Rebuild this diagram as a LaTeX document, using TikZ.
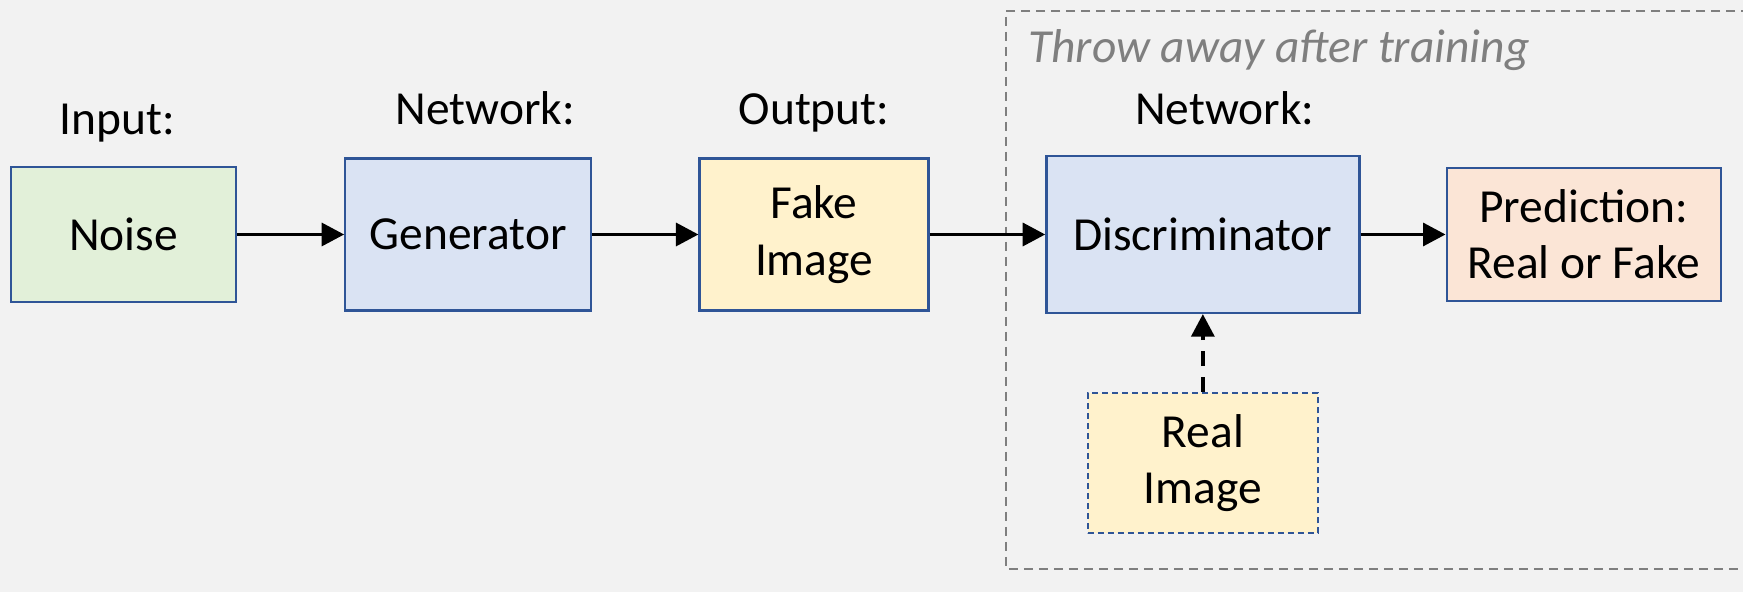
\documentclass[tikz,border=0pt]{standalone}
\usepackage{fontspec}
\setmainfont{Carlito}
\usepackage{tikz}
\usetikzlibrary{positioning,arrows.meta}

\definecolor{bggray}{HTML}{F2F2F2}
\definecolor{edgeblue}{HTML}{2F5597}
\definecolor{noisegreen}{HTML}{E2F0D9}
\definecolor{netblue}{HTML}{DAE3F3}
\definecolor{imgyellow}{HTML}{FFF2CC}
\definecolor{predorange}{HTML}{FBE5D6}
\definecolor{framegray}{HTML}{7F7F7F}

\begin{document}
\begin{tikzpicture}[
  font=\fontsize{27}{32}\selectfont, >={Triangle[length=0.45cm,width=0.46cm]},
  box/.style={draw=edgeblue, line width=1.3pt, align=center, inner sep=0pt},
  lbl/.style={inner sep=0pt, anchor=base},
  arr/.style={->, line width=1.9pt},
  frame/.style={draw=framegray, line width=1.2pt, dash pattern=on 0.18cm off 0.12cm},
]
\fill[bggray] (0,0) rectangle (34.86,11.84);
\useasboundingbox (0,0) rectangle (34.86,11.84);

% part that is dropped after training
\draw[frame] (35.0,11.62) -- (20.12,11.62) -- (20.12,0.46) -- (35.0,0.46);
\node[lbl, anchor=base west, text=framegray, font=\fontsize{27}{32}\selectfont\itshape]
  (throw) at (20.56,10.58) {Throw away after training};

% generator side
\node[box, fill=noisegreen, minimum width=4.5cm, minimum height=2.7cm] (noise) at (2.47,7.15) {Noise};
\node[box, fill=netblue, minimum width=4.92cm, minimum height=3.04cm, right=2.14cm of noise] (gen) {Generator};
\node[box, fill=imgyellow, minimum width=4.58cm, minimum height=3.04cm, right=2.12cm of gen] (fake) {Fake\\Image};

% discriminator side
\node[box, fill=netblue, minimum width=6.26cm, minimum height=3.14cm, right=2.31cm of fake] (disc) {Discriminator};
\node[box, fill=predorange, minimum width=5.48cm, minimum height=2.66cm, right=1.7cm of disc] (pred) {Prediction:\\Real or Fake};
\node[box, fill=imgyellow, dash pattern=on 0.12cm off 0.08cm, minimum width=4.6cm, minimum height=2.8cm, below=1.56cm of disc] (real) {Real\\Image};

% labels over the boxes
\node[lbl, above=0.62cm of noise.north, anchor=base, xshift=-0.12cm] (inlbl) {Input:};
\node[lbl, above=0.66cm of gen.north, anchor=base, xshift=0.34cm] (genlbl) {Network:};
\node[lbl, above=0.66cm of fake.north, anchor=base] (outlbl) {Output:};
\node[lbl, above=0.6cm of disc.north, anchor=base, xshift=0.44cm] (disclbl) {Network:};

\draw[arr] (noise) -- (gen);
\draw[arr] (gen) -- (fake);
\draw[arr] (fake) -- (disc);
\draw[arr] (disc) -- (pred);
\draw[arr, dash pattern=on 0.3cm off 0.22cm] (real) -- (disc);
\end{tikzpicture}
\end{document}
